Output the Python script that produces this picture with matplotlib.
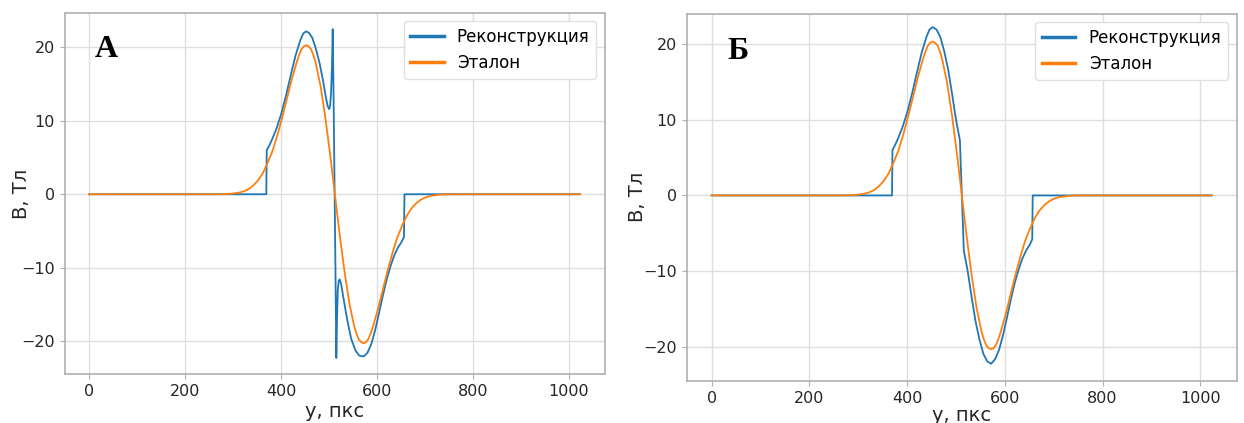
import matplotlib
matplotlib.use("Agg")
import matplotlib.pyplot as plt

# ---- data ----
# reference field (Эталон), same for both panels
ref_x = [0, 262, 282, 297, 312, 322, 332, 342, 352, 362, 372, 382, 392, 402,
         412, 422, 432, 437, 442, 447, 452, 457, 462, 467, 472, 482, 492, 502, 512,
         522, 532, 542, 552, 557, 562, 567, 572, 577, 582, 587, 592, 602, 612, 622, 632, 642,
         652, 662, 672, 682, 692, 702, 712, 727, 742, 762, 1023]
ref_y = [0.0, 0.0, 0.02, 0.08, 0.22, 0.4, 0.7, 1.2, 1.9, 2.9, 4.3, 5.9, 8.0, 10.4,
         13.0, 15.6, 17.9, 18.9, 19.7, 20.15, 20.3, 20.15, 19.8, 19.0, 17.9, 14.8, 10.5, 5.5, 0.0,
         -5.5, -10.5, -14.8, -17.9, -19.0, -19.8, -20.15, -20.3, -20.15, -19.7, -18.9, -17.9, -15.6, -13.0, -10.4, -8.0, -5.9,
         -4.3, -2.9, -1.9, -1.2, -0.7, -0.4, -0.22, -0.08, -0.02, 0.0, 0.0]

# reconstruction, panel А (with the artefact at the centre)
rec_a_x = [0, 369, 370, 375, 380, 390, 400, 410, 420, 430, 440, 446, 452, 458,
           465, 472, 480, 487, 493, 497, 500, 502, 504, 506, 507.5, 509, 511,
           513, 515, 516.5, 518, 520, 522, 525, 530, 538, 546, 555, 563, 572,
           580, 588, 596, 604, 612, 620, 628, 636, 644, 651, 656, 657, 1023]
rec_a_y = [0.0, 0.0, 6.0, 6.6, 7.3, 8.9, 10.9, 13.4, 16.2, 18.9, 21.0, 21.9, 22.2, 22.0,
           21.3, 19.9, 17.9, 15.6, 13.3, 12.0, 11.6, 12.0, 13.8, 17.5, 22.5, 15.0, 3.0,
           -9.0, -22.3, -17.0, -13.2, -11.8, -11.6, -12.2, -14.2, -17.2, -19.7, -21.3, -22.0, -22.1,
           -21.6, -20.4, -18.5, -16.2, -13.8, -11.6, -9.8, -8.3, -7.2, -6.5, -5.8, 0.0, 0.0]

# reconstruction, panel Б
rec_b_x = [0, 369, 370, 375, 380, 390, 400, 410, 420, 430, 440, 446, 452, 460,
           468, 476, 484, 492, 500, 505, 508, 510, 512, 514, 516, 519, 524,
           532, 540, 548, 556, 564, 572, 580, 588, 596, 604, 612, 620, 628,
           636, 644, 651, 656, 657, 1023]
rec_b_y = [0.0, 0.0, 6.0, 6.6, 7.3, 8.9, 10.9, 13.4, 16.2, 18.9, 21.0, 21.9, 22.2, 21.9,
           20.9, 19.0, 16.6, 13.4, 10.0, 8.3, 7.3, 3.5, 0.0, -3.5, -7.3, -8.3, -10.0,
           -13.4, -16.6, -19.0, -20.9, -21.9, -22.2, -21.6, -20.4, -18.5, -16.2, -13.8, -11.6, -9.8,
           -8.3, -7.2, -6.5, -5.8, 0.0, 0.0]

x_ticks = [0, 200, 400, 600, 800, 1000]
y_ticks = [-20, -10, 0, 10, 20]

plt.rcParams['font.family'] = ['DejaVu Sans']

fig = plt.figure(figsize=(12.44, 4.23), dpi=100)
ax_a = fig.add_axes([0.052, 0.115, 0.434, 0.855])
ax_b = fig.add_axes([0.552, 0.099, 0.442, 0.869])


def draw_panel(ax, rec_x, rec_y, letter, letter_x, ypad, xpad):
    ax.plot(rec_x, rec_y, color='#1f77b4', lw=1.3, label='Реконструкция')
    ax.plot(ref_x, ref_y, color='#ff7f0e', lw=1.3, label='Эталон')
    ax.set_xticks(x_ticks)
    ax.set_yticks(y_ticks)
    ax.grid(True, color='#dedede', lw=1.0)
    ax.set_axisbelow(True)
    for sp in ax.spines.values():
        sp.set_color('#b0b0b0')
        sp.set_linewidth(1.2)
    ax.tick_params(labelsize=11.5, colors='#b0b0b0', labelcolor='#262626', length=3.5)
    ax.set_xlabel('у, пкс', fontsize=14, color='#262626', labelpad=xpad)
    ax.set_ylabel('B, Тл', fontsize=14, color='#262626', labelpad=ypad)
    leg = ax.legend(loc='upper right', fontsize=12, framealpha=1.0,
                    edgecolor='#e0e0e0', handlelength=2.0)
    for ln in leg.get_lines():
        ln.set_linewidth(2.5)
    ax.text(letter_x, 0.877, letter, transform=ax.transAxes,
            fontsize=23, fontweight='bold', family='Liberation Serif')


draw_panel(ax_a, rec_a_x, rec_a_y, 'А', 0.056, -7, 2)
draw_panel(ax_b, rec_b_x, rec_b_y, 'Б', 0.075, -3, 0)
ax_b.set_ylim(-24.5, 24.0)

fig.savefig('out.png', dpi=100)
